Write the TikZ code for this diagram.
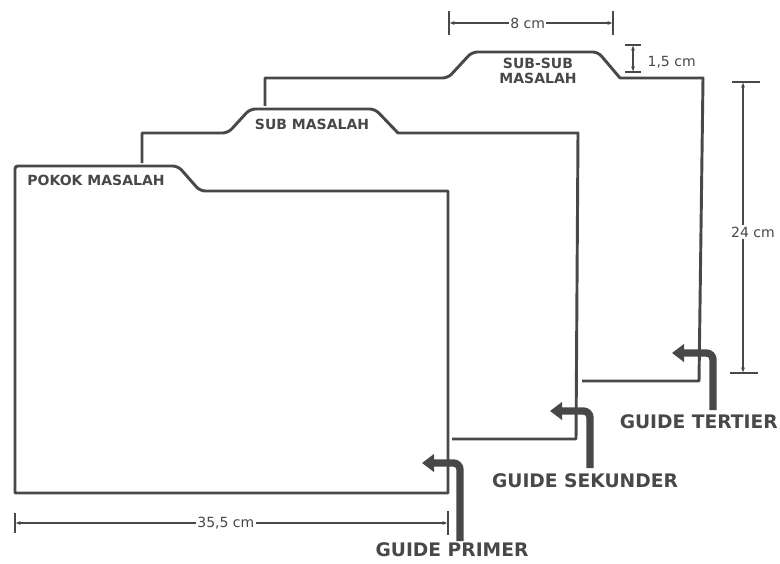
\documentclass[tikz,border=0pt]{standalone}
\usepackage{fontspec}
\setmainfont{DejaVu Sans}
\usetikzlibrary{arrows.meta}
\definecolor{inkgray}{RGB}{72,72,72}
\tikzset{
  folder/.style={draw=inkgray,line width=2.2pt,line join=round},
  tabround/.style={rounded corners=4pt},
  tablabel/.style={text=inkgray,font=\bfseries\fontsize{10.5}{12}\selectfont,inner sep=0pt,align=center},
  guidelabel/.style={text=inkgray,font=\bfseries\fontsize{14}{16}\selectfont,inner sep=0pt},
  guidearrow/.style={draw=inkgray,line width=5.5pt,rounded corners=5pt,-{Triangle[length=9pt,width=13pt]}},
  dimline/.style={draw=inkgray,line width=1.1pt,{Latex[length=4pt,width=3pt]}-{Latex[length=4pt,width=3pt]}},
  dimtick/.style={draw=inkgray,line width=1.1pt},
  dimlabel/.style={text=inkgray,font=\fontsize{10.5}{12}\selectfont,inner sep=1pt,fill=white}
}
\begin{document}
\begin{tikzpicture}[x=0.75pt,y=-0.75pt]
                \useasboundingbox (0,0) rectangle (780,563);
                % folders, back to front
                \draw[folder] (582,381) -- (699,381) -- (703,78) -- (620,78) [tabround] -- (598,52) -- (472,52) -- (448,78) [sharp corners] -- (265,78) -- (265,106);
                \draw[folder] (452,439) -- (576,439) -- (578,133) -- (398,133) [tabround] -- (375,109) -- (250,109) -- (228,133) [sharp corners] -- (142,133) -- (142,163);
                \draw[folder] (448,191) -- (448,493) -- (15,493) [rounded corners=2pt] -- (15,166) [tabround] -- (178,166) -- (200,191) [sharp corners] -- (448,191) -- cycle;
                % tab texts
                \node[tablabel] (pokok) at (96,180) {POKOK MASALAH};
                \node[tablabel] (sub) at (312,124) {SUB MASALAH};
                \node[tablabel] (subsub) at (538,71) {SUB-SUB\\[-1pt]MASALAH};
                % guides
                \coordinate (gp) at (460,541);
                \coordinate (gpTip) at (422,463);
                \coordinate (gs) at (590,468);
                \coordinate (gsTip) at (550,411);
                \coordinate (gt) at (713,410);
                \coordinate (gtTip) at (672,353);
                \draw[guidearrow] (gp) |- (gpTip);
                \draw[guidearrow] (gs) |- (gsTip);
                \draw[guidearrow] (gt) |- (gtTip);
                \node[guidelabel] (primer) at (452,550) {GUIDE PRIMER};
                \node[guidelabel] (sekunder) at (585,481) {GUIDE SEKUNDER};
                \node[guidelabel,anchor=east] (tertier) at (778,422) {GUIDE TERTIER};
                % dimensions
                \coordinate (w8a) at (449,23);
                \coordinate (w8b) at (613,23);
                \draw[dimline] (w8a) -- node[dimlabel,pos=0.48] {8 cm} (w8b);
                \draw[dimtick] (w8a) ++(0,-12) -- ++(0,24);
                \draw[dimtick] (w8b) ++(0,-12) -- ++(0,24);
                \coordinate (h15a) at (633,45);
                \coordinate (h15b) at (633,72);
                \draw[dimline] (h15a) -- (h15b);
                \draw[dimtick] (h15a) ++(-8,0) -- ++(16,0);
                \draw[dimtick] (h15b) ++(-8,0) -- ++(16,0);
                \node[dimlabel,anchor=west] (l15) at (646,62) {1,5 cm};
                \coordinate (h24a) at (743,82);
                \coordinate (h24b) at (743,373);
                \draw[dimline] (h24a) -- (h24b);
                \draw[dimtick] (h24a) ++(-11,0) -- ++(28,0);
                \draw[dimtick] (h24b) ++(-13,0) -- ++(28,0);
                \node[dimlabel] (l24) at (753,232) {24 cm};
                \coordinate (w355a) at (15,523);
                \coordinate (w355b) at (448,523);
                \draw[dimline] (w355a) -- node[dimlabel,pos=0.487] {35,5 cm} (w355b);
                \draw[dimtick] (w355a) ++(0,-10) -- ++(0,20);
                \draw[dimtick] (w355b) ++(0,-12) -- ++(0,24);
\end{tikzpicture}
\end{document}
